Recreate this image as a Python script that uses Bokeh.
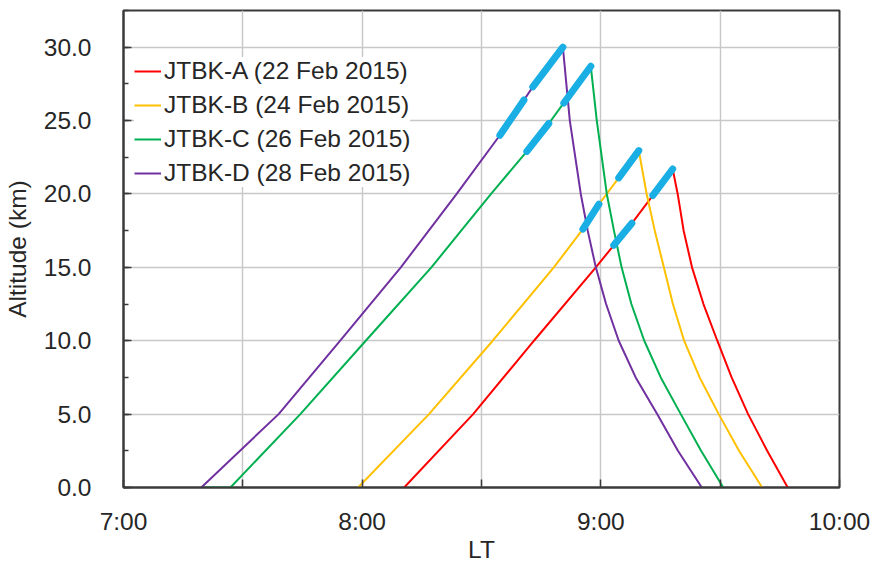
from bokeh.plotting import figure
from bokeh.models import (Range1d, FixedTicker, SingleIntervalTicker, Legend, LegendItem,
                          PrintfTickFormatter)
from bokeh.embed import file_html
from bokeh.resources import INLINE

# ---- data (time in decimal hours LT, altitude in km) ----
a_t = [8.176, 8.465, 8.720, 8.979, 9.054, 9.130, 9.218, 9.301, 9.322, 9.347, 9.382, 9.430, 9.488, 9.548, 9.617, 9.697, 9.783]
a_z = [0.0, 5.0, 10.0, 15.0, 16.5, 18.0, 19.9, 21.7, 20.0, 17.5, 15.0, 12.5, 10.0, 7.5, 5.0, 2.5, 0.0]

b_t = [7.983, 8.280, 8.547, 8.803, 8.925, 8.992, 9.075, 9.159, 9.192, 9.226, 9.264, 9.302, 9.349, 9.414, 9.494, 9.579, 9.676]
b_z = [0.0, 5.0, 10.0, 15.0, 17.6, 19.3, 21.1, 22.95, 20.0, 17.5, 15.0, 12.5, 10.0, 7.5, 5.0, 2.5, 0.0]

c_t = [7.330, 7.448, 7.741, 8.015, 8.290, 8.540, 8.690, 8.782, 8.845, 8.958, 8.983, 9.025, 9.055, 9.087, 9.128, 9.182, 9.251, 9.335, 9.420, 9.513]
c_z = [0.0, 0.0, 5.0, 10.0, 15.0, 20.0, 22.9, 24.8, 26.2, 28.7, 25.0, 20.0, 17.5, 15.0, 12.5, 10.0, 7.5, 5.0, 2.5, 0.0]

d_t = [7.326, 7.650, 7.908, 8.162, 8.396, 8.577, 8.678, 8.715, 8.841, 8.870, 8.916, 8.945, 8.979, 9.022, 9.075, 9.146, 9.236, 9.323, 9.423]
d_z = [0.0, 5.0, 10.0, 15.0, 20.0, 24.0, 26.4, 27.3, 30.0, 25.0, 20.0, 17.5, 15.0, 12.5, 10.0, 7.5, 5.0, 2.5, 0.0]

# highlighted (blue) sections along the ascents
hl_t0 = [9.054, 9.218, 8.925, 9.075, 8.690, 8.845, 8.577, 8.715]
hl_z0 = [16.5, 19.9, 17.6, 21.1, 22.9, 26.2, 24.0, 27.3]
hl_t1 = [9.130, 9.301, 8.992, 9.159, 8.782, 8.958, 8.678, 8.841]
hl_z1 = [18.0, 21.7, 19.3, 22.95, 24.8, 28.7, 26.4, 30.0]

labels = ["JTBK-A (22 Feb 2015)", "JTBK-B (24 Feb 2015)",
          "JTBK-C (26 Feb 2015)", "JTBK-D (28 Feb 2015)"]
colors = ["#FF0000", "#FFC000", "#00B050", "#7030A0"]
hl_color = "#19AEE4"

x_ticks = [7.0, 7.5, 8.0, 8.5, 9.0, 9.5, 10.0]
x_labels = {7.0: "7:00", 7.5: "", 8.0: "8:00", 8.5: "", 9.0: "9:00", 9.5: "", 10.0: "10:00"}

FONT = "Liberation Sans"
FS = "24.5px"
TXT = "#262626"
AXC = "#3a3a3a"

p = figure(width=870, height=565, x_range=Range1d(7, 10), y_range=Range1d(0, 32.5),
           output_backend="svg", toolbar_location=None,
           min_border_left=122, min_border_right=31, min_border_top=10, min_border_bottom=78)
p.background_fill_color = "white"
p.border_fill_color = "white"
p.outline_line_color = AXC
p.outline_line_width = 2

renderers = []
for t, z, c in zip([a_t, b_t, c_t, d_t], [a_z, b_z, c_z, d_z], colors):
    r = p.line(t, z, line_color=c, line_width=2)
    renderers.append(r)

p.segment(x0=hl_t0, y0=hl_z0, x1=hl_t1, y1=hl_z1, line_color=hl_color, line_width=7,
          line_cap="round")

# axes
xa = p.xaxis[0]
xa.ticker = FixedTicker(ticks=x_ticks, minor_ticks=[])
xa.major_label_overrides = x_labels
xa.axis_label = "LT"
ya = p.yaxis[0]
ya.ticker = SingleIntervalTicker(interval=5, num_minor_ticks=2)
ya.formatter = PrintfTickFormatter(format="%.1f")
ya.axis_label = "Altitude (km)"

for ax in (xa, ya):
    ax.axis_line_color = AXC
    ax.axis_line_width = 2
    ax.major_tick_line_color = AXC
    ax.major_tick_line_width = 1.5
    ax.minor_tick_line_color = AXC
    ax.minor_tick_line_width = 1.5
    ax.major_tick_in = 8
    ax.major_tick_out = 0
    ax.minor_tick_in = 5
    ax.minor_tick_out = 0
    ax.major_label_text_font = FONT
    ax.major_label_text_font_size = FS
    ax.major_label_text_color = TXT
    ax.axis_label_text_font = FONT
    ax.axis_label_text_font_size = FS
    ax.axis_label_text_font_style = "normal"
    ax.axis_label_text_color = TXT

xa.major_label_standoff = 20
xa.axis_label_standoff = -2
ya.major_label_standoff = 32
ya.axis_label_standoff = 10

p.xgrid.ticker = FixedTicker(ticks=x_ticks)
for g in (p.xgrid[0], p.ygrid[0]):
    g.grid_line_color = "#c8c8c8"
    g.grid_line_width = 1.5

legend = Legend(items=[LegendItem(label=l, renderers=[r]) for l, r in zip(labels, renderers)],
                location=(11, 300), padding=2, spacing=6, margin=0,
                glyph_width=27, glyph_height=26, label_height=26, label_standoff=3,
                label_text_font=FONT, label_text_font_size=FS, label_text_color=TXT,
                border_line_color=None, background_fill_color="white", background_fill_alpha=1.0)
p.add_layout(legend)

open("out.html", "w").write(file_html(p, INLINE))
